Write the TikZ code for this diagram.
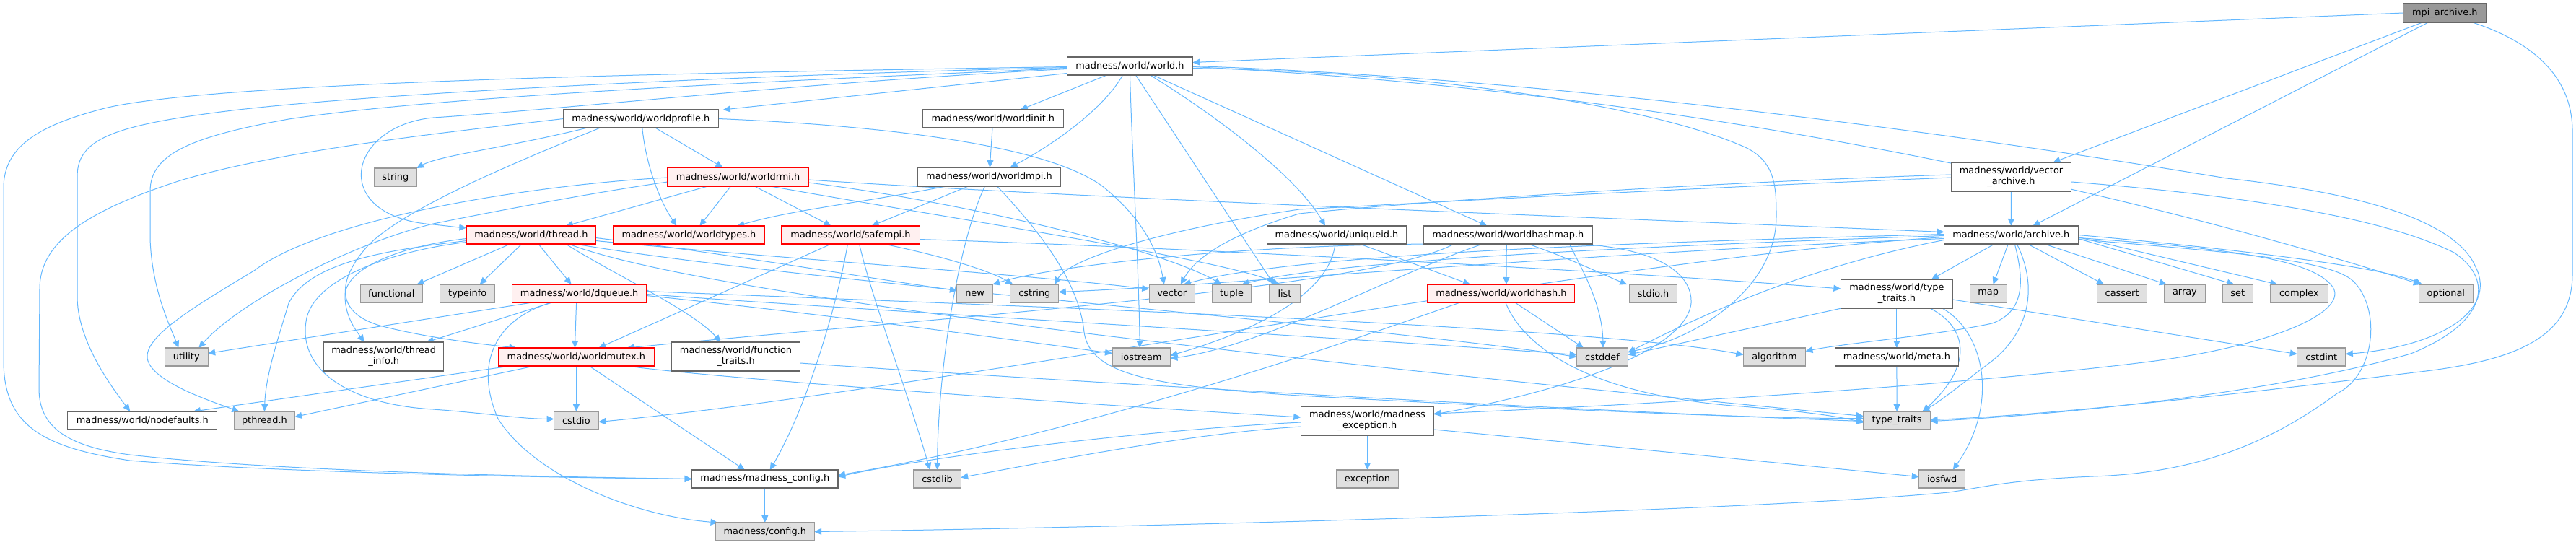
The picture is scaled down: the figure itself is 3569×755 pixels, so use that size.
\documentclass[tikz,border=0pt]{standalone}
\usepackage{fontspec}
\setmainfont{DejaVu Sans}
\usetikzlibrary{arrows.meta}
\pgfdeclarelayer{back}
\pgfdeclarelayer{bg}
\pgfsetlayers{back,bg,main}
\definecolor{edgeblue}{HTML}{63B8FF}
\definecolor{sysfill}{HTML}{E0E0E0}
\definecolor{sysdraw}{HTML}{999999}
\definecolor{hdrdraw}{HTML}{666666}
\definecolor{redfill}{HTML}{FFF0F0}
\definecolor{mainfill}{HTML}{999999}
\begin{document}
\begin{tikzpicture}[x=1pt,y=-1pt,
  nb/.style={rectangle, inner sep=0pt, outer sep=0pt, line width=1.1pt, align=center, font=\fontsize{12.9}{15}\selectfont},
  sys/.style={nb, draw=sysdraw, fill=sysfill},
  hdr/.style={nb, draw=hdrdraw, fill=white},
  redhdr/.style={nb, draw=red, fill=redfill},
  mainhdr/.style={nb, draw=hdrdraw, fill=mainfill},
  lnk/.style={draw=edgeblue, line width=1pt, -{Triangle[length=10pt,width=9pt]}}]
\useasboundingbox (0,0) rectangle (3569,755);
\begin{pgfonlayer}{back}
\fill[white] (0,0) rectangle (3569,755);
\end{pgfonlayer}

% ---------- nodes ----------
\node[mainhdr, minimum width=115.2pt, minimum height=26pt] (mpi) at (3387.3,18) {mpi\_archive.h};
\node[hdr, minimum width=173.7pt, minimum height=25pt] (world) at (1565.5,91.5) {madness/world/world.h};
\node[hdr, minimum width=215.1pt, minimum height=25pt] (worldprofile) at (887.8,164.5) {madness/world/worldprofile.h};
\node[hdr, minimum width=194.8pt, minimum height=25pt] (worldinit) at (1375.8,164.5) {madness/world/worldinit.h};
\node[sys, minimum width=58.6pt, minimum height=25pt] (string) at (547.8,245.5) {string};
\node[redhdr, minimum width=195.2pt, minimum height=26pt] (worldrmi) at (1022.5,245) {madness/world/worldrmi.h};
\node[hdr, minimum width=198.6pt, minimum height=26pt] (worldmpi) at (1370.5,245) {madness/world/worldmpi.h};
\node[hdr, minimum width=166.8pt, minimum height=40pt] (vecarch) at (2786.5,245) {madness/world/vector\\\_archive.h};
\node[redhdr, minimum width=179.1pt, minimum height=25pt] (thread) at (735.9,325.5) {madness/world/thread.h};
\node[redhdr, minimum width=209.7pt, minimum height=25pt] (worldtypes) at (954.4,325.5) {madness/world/worldtypes.h};
\node[redhdr, minimum width=191.3pt, minimum height=25pt] (safempi) at (1178.5,325.5) {madness/world/safempi.h};
\node[hdr, minimum width=193.2pt, minimum height=25pt] (uniqueid) at (1851.9,325.5) {madness/world/uniqueid.h};
\node[hdr, minimum width=233.4pt, minimum height=25pt] (worldhashmap) at (2089.3,325.5) {madness/world/worldhashmap.h};
\node[hdr, minimum width=185.6pt, minimum height=25pt] (archive) at (2786.3,325.5) {madness/world/archive.h};

\node[sys, minimum width=86.5pt, minimum height=25pt] (functional) at (542.3,406.5) {functional};
\node[sys, minimum width=76.1pt, minimum height=25pt] (typeinfo) at (647.7,406.5) {typeinfo};
\node[redhdr, minimum width=185.6pt, minimum height=25pt] (dqueue) at (802.6,406.5) {madness/world/dqueue.h};
\node[sys, minimum width=49.4pt, minimum height=25pt] (new) at (1350.6,406.5) {new};
\node[sys, minimum width=67pt, minimum height=25pt] (cstring) at (1433.3,406.5) {cstring};
\node[sys, minimum width=63.1pt, minimum height=25pt] (vector) at (1623.8,406.5) {vector};
\node[sys, minimum width=54.7pt, minimum height=25pt] (tuple) at (1706.5,406.5) {tuple};
\node[sys, minimum width=42.5pt, minimum height=25pt] (list) at (1780,406.5) {list};
\node[redhdr, minimum width=204pt, minimum height=25pt] (worldhash) at (2079.9,406.5) {madness/world/worldhash.h};
\node[sys, minimum width=66.6pt, minimum height=25pt] (stdio) at (2290.6,406.5) {stdio.h};
\node[hdr, minimum width=155pt, minimum height=40pt] (typetraitsh) at (2627.9,407) {madness/world/type\\\_traits.h};
\node[sys, minimum width=50.9pt, minimum height=25pt] (map) at (2754.6,406.5) {map};
\node[sys, minimum width=69.6pt, minimum height=25pt] (cassert) at (2940,406.5) {cassert};
\node[sys, minimum width=56.3pt, minimum height=25pt] (array) at (3026.9,406.5) {array};
\node[sys, minimum width=42.4pt, minimum height=25pt] (set) at (3100.3,406.5) {set};
\node[sys, minimum width=79.6pt, minimum height=25pt] (complex) at (3185.4,406.5) {complex};
\node[sys, minimum width=74.6pt, minimum height=25pt] (optional) at (3388.8,406.5) {optional};

\node[sys, minimum width=59.7pt, minimum height=25pt] (utility) at (258.3,494.5) {utility};
\node[hdr, minimum width=166.4pt, minimum height=40pt] (threadinfo) at (531.7,494) {madness/world/thread\\\_info.h};
\node[redhdr, minimum width=215.4pt, minimum height=25pt] (worldmutex) at (798.4,494.5) {madness/world/worldmutex.h};
\node[hdr, minimum width=178.7pt, minimum height=40pt] (functraits) at (1019.5,494) {madness/world/function\\\_traits.h};
\node[sys, minimum width=80.4pt, minimum height=25pt] (iostream) at (1581.2,494.5) {iostream};
\node[sys, minimum width=70.8pt, minimum height=25pt] (cstddef) at (2220,494.5) {cstddef};
\node[sys, minimum width=86.1pt, minimum height=25pt] (algorithm) at (2458.4,494.5) {algorithm};
\node[hdr, minimum width=171pt, minimum height=25pt] (meta) at (2627.9,494.5) {madness/world/meta.h};
\node[sys, minimum width=67pt, minimum height=25pt] (cstdint) at (3216.3,494.5) {cstdint};

\node[hdr, minimum width=207pt, minimum height=25pt] (nodefaults) at (197.3,582.5) {madness/world/nodefaults.h};
\node[sys, minimum width=83.8pt, minimum height=25pt] (pthread) at (366.4,582.5) {pthread.h};
\node[sys, minimum width=61.6pt, minimum height=25pt] (cstdio) at (798.4,582.5) {cstdio};
\node[hdr, minimum width=184.4pt, minimum height=40pt] (mexc) at (1894.5,583) {madness/world/madness\\\_exception.h};
\node[sys, minimum width=92.6pt, minimum height=25pt] (typetraits) at (2628.1,582.5) {type\_traits};

\node[hdr, minimum width=202.4pt, minimum height=25pt] (mconfig) at (1059.8,663.5) {madness/madness\_config.h};
\node[sys, minimum width=65.4pt, minimum height=25pt] (cstdlib) at (1298.5,663.5) {cstdlib};
\node[sys, minimum width=86.5pt, minimum height=25pt] (exception) at (1894.5,663.5) {exception};
\node[sys, minimum width=63.9pt, minimum height=25pt] (iosfwd) at (2690.7,663.5) {iosfwd};

\node[sys, minimum width=136.6pt, minimum height=25pt] (config) at (1059.8,736.5) {madness/config.h};

% ---------- edges ----------
\begin{pgfonlayer}{bg}
% mpi_archive.h
\draw[lnk] (mpi.west) -- ([yshift=5pt]world.east);
\draw[lnk] ([xshift=-31pt]mpi.south) -- ([xshift=58pt]vecarch.north);
\draw[lnk] ([xshift=-23pt]mpi.south) -- ([xshift=30pt]archive.north);
\draw[lnk] ([xshift=38pt]mpi.south) .. controls (3500,55) and (3563,100) .. (3564,180) -- (3564,380) .. controls (3564,470) and (3480,500) .. (3353,515) .. controls (3150,540) and (2850,575) .. ([yshift=1pt]typetraits.east);

% world.h
\draw[lnk] ([yshift=-10pt]world.west) -- ([xshift=114pt]worldprofile.north);
\draw[lnk] ([xshift=-32pt]world.south) -- ([xshift=38pt]worldinit.north);
\draw[lnk] ([xshift=-10pt]world.south) .. controls (1530,150) and (1460,200) .. ([xshift=29pt]worldmpi.north);
\draw[lnk] (world.south) .. controls (1568,200) and (1578,380) .. ([xshift=-2pt]iostream.north);
\draw[lnk] ([xshift=8pt]world.south) -- ([xshift=-15pt]list.north);
\draw[lnk] ([xshift=28pt]world.south) .. controls (1700,170) and (1800,250) .. ([xshift=-16pt]uniqueid.north);
\draw[lnk] ([xshift=32pt]world.south) -- ([xshift=-29pt]worldhashmap.north);
\draw[lnk] ([yshift=-3pt]world.east) .. controls (2000,100) and (2300,150) .. (2420,205) .. controls (2460,225) and (2461,260) .. (2461,300) .. controls (2461,400) and (2350,470) .. ([yshift=7pt]cstddef.east);
\draw[lnk] ([yshift=-1pt]world.east) .. controls (2300,125) and (2900,250) .. ([xshift=-35pt]optional.north);
\draw[lnk] (world.east) .. controls (2200,110) and (2800,200) .. (3085,247) .. controls (3250,265) and (3400,300) .. (3430,370) .. controls (3460,430) and (3380,480) .. ([yshift=4pt]cstdint.east);
\draw[lnk] ([yshift=-1pt]world.west) .. controls (1000,100) and (300,112) .. (145,150) .. controls (60,172) and (5,200) .. (5,260) -- (5,500) .. controls (5,590) and (60,620) .. (180,638) .. controls (400,656) and (800,662) .. (mconfig.west);
\draw[lnk] ([yshift=-2pt]world.west) .. controls (1000,105) and (500,130) .. (306,155) .. controls (150,175) and (107,195) .. (107,245) -- (107,410) .. controls (107,470) and (150,530) .. ([xshift=-17pt]nodefaults.north);
\draw[lnk] ([yshift=-3pt]world.west) .. controls (1000,115) and (600,135) .. (400,165) .. controls (260,190) and (208,215) .. (208,265) -- (208,330) .. controls (210,400) and (235,450) .. ([xshift=-11pt]utility.north);
\draw[lnk] ([yshift=-4pt]world.west) .. controls (1100,115) and (800,150) .. (600,163) .. controls (480,175) and (455,300) .. (600,311) .. controls (620,313) and (635,315) .. ([yshift=10pt]thread.west);

% worldprofile.h
\draw[lnk] (worldprofile.west) .. controls (650,180) and (400,205) .. (250,250) .. controls (110,295) and (55,340) .. (55,400) -- (54,540) .. controls (55,590) and (90,618) .. (180,630) .. controls (400,655) and (800,661) .. (mconfig.west);
\draw[lnk] ([xshift=-74pt]worldprofile.south) .. controls (700,205) and (610,215) .. (string.north east);
\draw[lnk] ([xshift=-56pt]worldprofile.south) .. controls (700,230) and (560,290) .. (510,340) .. controls (465,390) and (465,435) .. (530,452) .. controls (600,470) and (680,478) .. ([xshift=-83pt]worldmutex.north);
\draw[lnk] ([xshift=2pt]worldprofile.south) .. controls (895,230) and (915,280) .. ([xshift=-17pt]worldtypes.north);
\draw[lnk] ([xshift=20pt]worldprofile.south) -- ([xshift=-21pt]worldrmi.north);
\draw[lnk] (worldprofile.east) .. controls (1250,175) and (1460,205) .. (1530,260) .. controls (1585,305) and (1605,350) .. ([xshift=-11pt]vector.north);

% worldinit.h
\draw[lnk] (worldinit) -- (worldmpi);

% vector_archive.h
\draw[lnk] (vecarch) -- (archive);
\draw[lnk] ([yshift=-7pt]vecarch.east) .. controls (3100,270) and (3300,300) .. (3400,350) .. controls (3460,390) and (3440,450) .. (3340,490) .. controls (3150,545) and (2850,575) .. ([yshift=-1pt]typetraits.east);
\draw[lnk] ([yshift=3pt]vecarch.west) .. controls (2300,255) and (1900,285) .. (1800,296) .. controls (1720,320) and (1660,350) .. ([xshift=12pt]vector.north);
\draw[lnk] ([yshift=-1pt]vecarch.west) .. controls (2300,262) and (1900,285) .. (1800,290) .. controls (1600,320) and (1480,360) .. ([xshift=28pt]cstring.north);

% worldmpi.h
\draw[lnk] ([xshift=-60pt]worldmpi.south) .. controls (1200,280) and (1100,290) .. ([xshift=67pt]worldtypes.north);
\draw[lnk] ([xshift=-29pt]worldmpi.south) -- ([xshift=29pt]safempi.north);
\draw[lnk] ([xshift=-6pt]worldmpi.south) .. controls (1330,330) and (1300,500) .. (cstdlib.north);
\draw[lnk] ([xshift=11pt]worldmpi.south) .. controls (1440,320) and (1495,390) .. (1502,460) .. controls (1510,520) and (1600,535) .. (1800,548) .. controls (2200,570) and (2450,580) .. ([yshift=3pt]typetraits.west);

% worldrmi.h
\draw[lnk] ([xshift=-42pt]worldrmi.south) -- ([xshift=48pt]thread.north);
\draw[lnk] ([xshift=-10pt]worldrmi.south) -- ([xshift=15pt]worldtypes.north);
\draw[lnk] ([xshift=23pt]worldrmi.south) -- ([xshift=-27pt]safempi.north);
\draw[lnk] ([yshift=-4pt]worldrmi.east) .. controls (1500,275) and (2300,305) .. ([yshift=4pt]archive.west);
\draw[lnk] ([xshift=45pt]worldrmi.south) .. controls (1300,300) and (1700,360) .. ([xshift=-8pt]list.north);
\draw[lnk] ([yshift=-8pt]worldrmi.east) .. controls (1300,275) and (1600,340) .. ([xshift=-14pt]tuple.north);
\draw[lnk] ([yshift=-1pt]worldrmi.west) .. controls (750,255) and (450,300) .. (352,375) .. controls (260,430) and (195,470) .. (205,500) .. controls (215,530) and (290,555) .. ([xshift=-35pt]pthread.north);
\draw[lnk] ([yshift=-7pt]worldrmi.west) .. controls (800,270) and (650,300) .. (600,310) .. controls (480,340) and (330,420) .. ([xshift=17pt]utility.north);

% thread.h
\draw[lnk] ([xshift=-29pt]thread.south) -- ([xshift=-8pt]functional.north east);
\draw[lnk] ([xshift=-13pt]thread.south) -- ([xshift=17pt]typeinfo.north);
\draw[lnk] ([xshift=10pt]thread.south) -- ([xshift=-11pt]dqueue.north);
\draw[lnk] ([xshift=48pt]thread.south) .. controls (850,380) and (960,430) .. ([xshift=-21pt]functraits.north);
\draw[lnk] ([yshift=-4pt]thread.east) .. controls (1000,350) and (1200,385) .. ([yshift=4pt]new.west);
\draw[lnk] ([yshift=-8pt]thread.east) .. controls (1100,360) and (1400,378) .. ([yshift=6pt]vector.west);
\draw[lnk] ([xshift=61pt]thread.south) .. controls (1100,390) and (1900,450) .. (cstddef.west);
\draw[lnk] ([xshift=52pt]thread.south) .. controls (1000,420) and (2000,520) .. ([yshift=6pt]typetraits.west);
\draw[lnk] ([yshift=-5pt]thread.west) .. controls (560,340) and (478,370) .. (478,410) .. controls (478,440) and (495,460) .. ([xshift=-27pt]threadinfo.north);
\draw[lnk] ([yshift=-8pt]thread.west) .. controls (550,345) and (430,360) .. (400,420) .. controls (385,470) and (368,520) .. (pthread.north);
\draw[lnk] ([yshift=-10pt]thread.west) .. controls (560,345) and (440,380) .. (425,440) .. controls (410,510) and (480,560) .. (600,567) .. controls (680,573) and (720,580) .. ([yshift=2pt]cstdio.west);

% safempi.h
\draw[lnk] ([xshift=-27pt]safempi.south) -- ([xshift=31pt]worldmutex.north);
\draw[lnk] ([xshift=-4pt]safempi.south) .. controls (1160,420) and (1120,560) .. ([xshift=7pt]mconfig.north);
\draw[lnk] ([xshift=12pt]safempi.south) .. controls (1210,420) and (1250,520) .. ([xshift=-10pt]cstdlib.north);
\draw[lnk] ([xshift=46pt]safempi.south) .. controls (1330,360) and (1380,380) .. ([xshift=-30pt]cstring.north);
\draw[lnk] ([yshift=-6pt]safempi.east) .. controls (1700,345) and (2300,380) .. ([yshift=7pt]typetraitsh.west);

% dqueue.h
\draw[lnk] ([xshift=-4pt]dqueue.south) -- ([xshift=-2pt]worldmutex.north);
\draw[lnk] ([xshift=-65pt]dqueue.south) -- ([yshift=5pt]utility.east);
\draw[lnk] ([xshift=-38pt]dqueue.south) -- ([xshift=-24pt]threadinfo.north east);
\draw[lnk] ([xshift=-38pt]dqueue.south) .. controls (690,440) and (655,500) .. (690,580) .. controls (740,660) and (880,715) .. ([xshift=3pt]config.north west);
\draw[lnk] ([yshift=-3pt]dqueue.east) .. controls (1100,430) and (1400,470) .. ([yshift=5pt]iostream.west);
\draw[lnk] ([yshift=-1pt]dqueue.east) .. controls (1200,430) and (1900,470) .. ([yshift=3pt]cstddef.west);
\draw[lnk] ([yshift=3pt]dqueue.east) .. controls (1300,420) and (2200,450) .. ([yshift=3pt]algorithm.west);

% worldmutex.h
\draw[lnk] ([xshift=18pt]worldmutex.south) -- ([xshift=-28pt]mconfig.north);
\draw[lnk] (worldmutex) -- (cstdio);
\draw[lnk] ([xshift=-91pt]worldmutex.south) -- ([xshift=-33pt]nodefaults.north east);
\draw[lnk] ([xshift=-58pt]worldmutex.south) -- ([yshift=5pt]pthread.east);
\draw[lnk] ([xshift=70pt]worldmutex.south) .. controls (1000,525) and (1500,560) .. ([yshift=5pt]mexc.west);

% function_traits.h
\draw[lnk] ([yshift=-9pt]functraits.east) .. controls (1500,530) and (2200,570) .. ([yshift=-1pt]typetraits.west);

% uniqueid.h
\draw[lnk] ([xshift=-2pt]uniqueid.south) .. controls (1840,420) and (1700,470) .. ([yshift=2pt]iostream.east);
\draw[lnk] ([xshift=32pt]uniqueid.south) -- ([xshift=-43pt]worldhash.north);

% worldhashmap.h
\draw[lnk] ([xshift=-2pt]worldhashmap.south) -- ([xshift=7pt]worldhash.north);
\draw[lnk] ([xshift=28pt]worldhashmap.south) .. controls (2180,360) and (2220,380) .. ([xshift=-3pt]stdio.north west);
\draw[lnk] ([xshift=85pt]worldhashmap.south) .. controls (2190,370) and (2220,420) .. ([xshift=1pt]cstddef.north);
\draw[lnk] ([xshift=100pt]worldhashmap.south) .. controls (2300,345) and (2345,380) .. (2343,420) .. controls (2335,490) and (2150,545) .. ([yshift=9pt]mexc.east);
\draw[lnk] ([xshift=-75pt]worldhashmap.south) .. controls (1900,400) and (1300,440) .. ([xshift=70pt]worldmutex.north);
\draw[lnk] ([xshift=-35pt]worldhashmap.south) .. controls (1930,380) and (1750,480) .. ([yshift=-2pt]iostream.east);
\draw[lnk] ([xshift=-110pt]worldhashmap.south) .. controls (1700,340) and (1450,370) .. (new.north east);

% worldhash.h
\draw[lnk] ([xshift=-57pt]worldhash.south) .. controls (1850,480) and (1500,600) .. ([yshift=5pt]mconfig.east);
\draw[lnk] ([xshift=19pt]worldhash.south) -- ([xshift=-26pt]cstddef.north);
\draw[lnk] ([xshift=6pt]worldhash.south) .. controls (2110,480) and (2200,545) .. (2400,562) .. controls (2480,568) and (2540,575) .. ([yshift=-3pt]typetraits.west);

% archive.h
\draw[lnk] ([xshift=-23pt]archive.south) -- ([xshift=48pt]typetraitsh.north);
\draw[lnk] ([xshift=-4pt]archive.south) -- ([xshift=7pt]map.north);
\draw[lnk] ([xshift=5pt]archive.south) .. controls (2802,380) and (2810,430) .. (2760,448) .. controls (2680,465) and (2560,475) .. ([yshift=8pt]algorithm.east);
\draw[lnk] ([xshift=8pt]archive.south) .. controls (2825,400) and (2810,460) .. (2760,500) .. controls (2720,530) and (2690,555) .. ([xshift=35pt]typetraits.north);
\draw[lnk] ([xshift=23pt]archive.south) -- ([xshift=-25pt]cassert.north);
\draw[lnk] ([xshift=46pt]archive.south) -- ([xshift=3pt]array.north west);
\draw[lnk] ([yshift=-5pt]archive.east) -- ([xshift=-5pt]set.north);
\draw[lnk] ([yshift=-3pt]archive.east) -- ([xshift=-30pt]complex.north);
\draw[lnk] (archive.east) .. controls (3100,345) and (3300,370) .. ([xshift=-33pt]optional.north);
\draw[lnk] ([yshift=-4pt]archive.east) .. controls (3100,345) and (3200,360) .. (3230,395) .. controls (3260,430) and (3150,480) .. (2970,502) .. controls (2700,535) and (2300,560) .. ([yshift=10pt]mexc.east);
\draw[lnk] ([yshift=-6pt]archive.east) .. controls (3100,350) and (3230,360) .. (3261,390) .. controls (3300,430) and (3290,520) .. (3238,545) .. controls (3150,610) and (3050,655) .. (2900,660) .. controls (2780,665) and (2750,675) .. (2700,682) .. controls (2400,710) and (1500,732) .. (config.east);
\draw[lnk] ([yshift=-7pt]archive.west) .. controls (2500,370) and (2350,440) .. ([yshift=6pt]cstddef.east);
\draw[lnk] ([yshift=-3pt]archive.west) .. controls (2200,360) and (1300,540) .. ([yshift=-2pt]cstdio.east);
\draw[lnk] ([yshift=-1pt]archive.west) .. controls (2300,340) and (1850,360) .. ([xshift=14pt]tuple.north);
\draw[lnk] ([yshift=1pt]archive.west) .. controls (2300,335) and (1800,350) .. ([xshift=16pt]vector.north);
\draw[lnk] ([yshift=-5pt]archive.west) .. controls (2200,350) and (1700,395) .. ([yshift=2pt]cstring.east);

% type_traits.h
\draw[lnk] (typetraitsh) -- (meta);
\draw[lnk] ([xshift=46pt]typetraitsh.south) .. controls (2720,450) and (2740,500) .. ([xshift=36pt]typetraits.north);
\draw[lnk] ([xshift=63pt]typetraitsh.south) .. controls (2750,460) and (2770,560) .. ([xshift=15pt]iosfwd.north);
\draw[lnk] ([xshift=1pt]typetraitsh.south west) -- ([yshift=3pt]cstddef.east);
\draw[lnk] ([yshift=-8pt]typetraitsh.east) -- ([yshift=4pt]cstdint.west);

% meta.h
\draw[lnk] (meta) -- (typetraits);

% madness_exception.h
\draw[lnk] (mexc) -- (exception);
\draw[lnk] ([yshift=-2pt]mexc.west) .. controls (1600,595) and (1300,630) .. ([yshift=3pt]mconfig.east);
\draw[lnk] ([yshift=-8pt]mexc.west) .. controls (1650,600) and (1450,640) .. ([yshift=2pt]cstdlib.east);
\draw[lnk] ([yshift=-12pt]mexc.east) .. controls (2200,615) and (2500,645) .. ([yshift=3pt]iosfwd.west);

% madness_config.h
\draw[lnk] (mconfig) -- (config);
\end{pgfonlayer}
\end{tikzpicture}
\end{document}
